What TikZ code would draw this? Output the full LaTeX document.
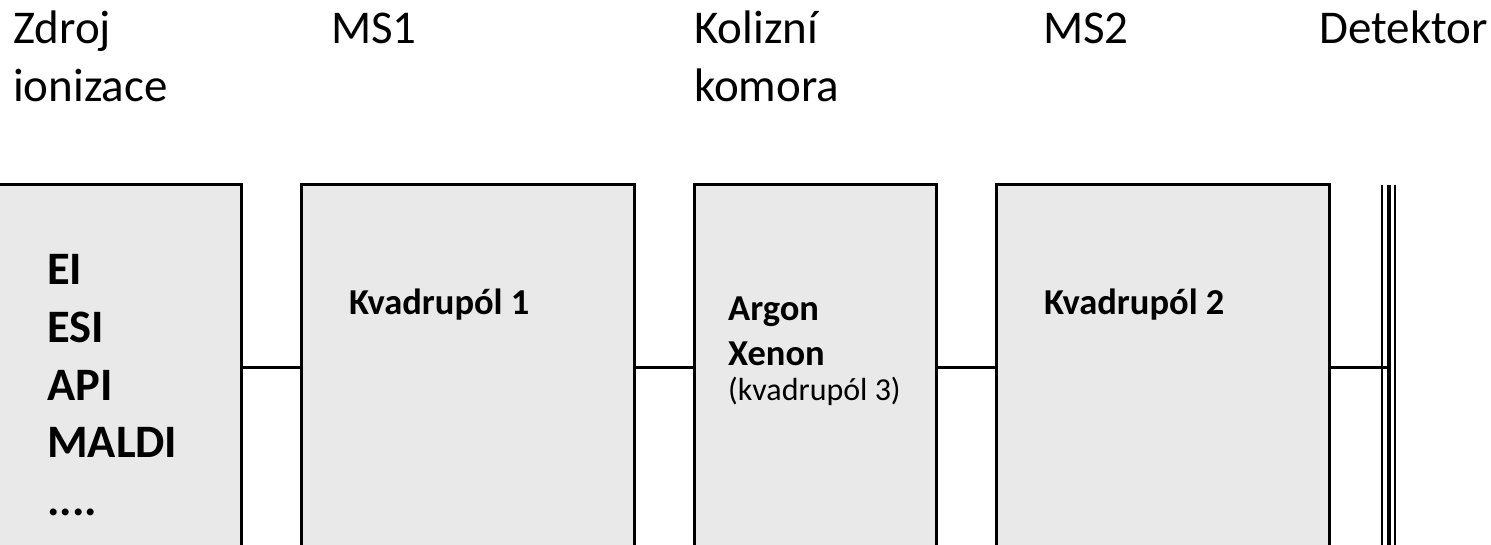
\documentclass[tikz,border=0pt]{standalone}
\usepackage{fontspec}
\setmainfont{Carlito}
\usetikzlibrary{positioning}
\definecolor{boxgray}{RGB}{233,233,233}
\newcommand{\ionmore}{....}

\begin{document}
\begin{tikzpicture}[x=1pt, y=-1pt,
    stage/.style={draw, line width=3pt, fill=boxgray, anchor=north west, inner sep=0pt, minimum height=400pt},
    heading/.style={anchor=base west, align=left, inner sep=0pt, font=\fontsize{47}{58}\selectfont},
    inbox/.style={anchor=base west, inner sep=0pt, font=\fontsize{36.5}{45}\selectfont\bfseries},
    link/.style={line width=3pt}]
    \useasboundingbox (0,0) rectangle (1491,545);
    \clip (0,0) rectangle (1491,545);

    % headings (base = last line)
    \node[heading] (hsrc) at (13,102) {Zdroj\\ionizace};
    \node[heading] (hms1) at (331,44) {MS1};
    \node[heading] (hcol) at (694,102) {Kolizní\\komora};
    \node[heading] (hms2) at (1043,44) {MS2};
    \node[heading, anchor=base east] (hdet) at (1488,44) {Detektor};

    % stages
    \node[stage, minimum width=250pt] (src) at (-10,183) {};
    \node[stage, minimum width=333pt] (ms1) at (300,183) {};
    \node[stage, minimum width=242pt] (col) at (693,183) {};
    \node[stage, minimum width=333pt] (ms2) at (995,183) {};

    % detector
    \coordinate (bus) at (0,367);
    \coordinate (dettop) at (1388.5,185);
    \coordinate (detbot) at (1388.5,560);
    \draw[line width=4pt] (dettop) -- (detbot);
    \draw[line width=2pt] ([xshift=-6.5pt]dettop) -- ([xshift=-6.5pt]detbot);
    \draw[line width=2pt] ([xshift=6.5pt]dettop) -- ([xshift=6.5pt]detbot);

    \draw[link] (src.east |- bus) -- (ms1.west |- bus);
    \draw[link] (ms1.east |- bus) -- (col.west |- bus);
    \draw[link] (col.east |- bus) -- (ms2.west |- bus);
    \draw[link] (ms2.east |- bus) -- (dettop |- bus);

    % labels inside
    \foreach \txt [count=\i from 0] in {EI, ESI, API, MALDI, \ionmore}
        \node[inbox, font=\fontsize{46.5}{57}\selectfont\bfseries] (ion\i) at (47,285+57.5*\i) {\txt};
    \node[inbox] (q1) at (349,315) {Kvadrupól 1};
    \node[inbox] (gas1) at (728,320) {Argon};
    \node[inbox] (gas2) at (728,365) {Xenon};
    \node[inbox, font=\fontsize{32}{38}\selectfont] (q3) at (728,400) {(kvadrupól 3)};
    \node[inbox] (q2) at (1044,315) {Kvadrupól 2};
\end{tikzpicture}
\end{document}
